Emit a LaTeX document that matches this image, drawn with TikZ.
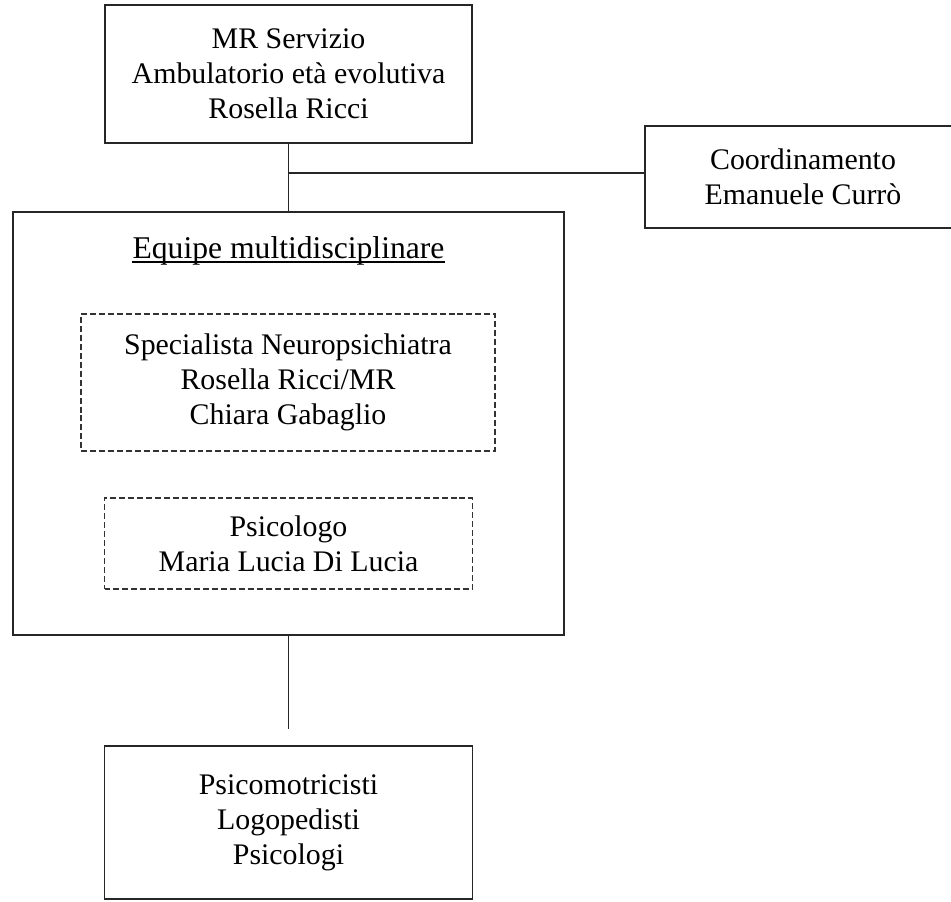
\documentclass[tikz,border=0pt]{standalone}
\usepackage{fontspec}
\setmainfont{Liberation Serif}
\begin{document}
\begin{tikzpicture}[
  box/.style={draw=black!85,line width=1pt,align=center,inner sep=0pt,font=\fontsize{17pt}{19.9pt}\selectfont},
  dashbox/.style={draw=black!80,line width=0.6pt,dash pattern=on 3.4pt off 1.7pt,align=center,inner sep=0pt,font=\fontsize{17pt}{19.9pt}\selectfont},
  link/.style={draw=black!85,line width=0.8pt}]
\useasboundingbox[fill=white](0,0)rectangle(19.02,18.04);
\clip(0,0)rectangle(19.02,18.04);
%servizio
\node[box,minimum width=7.34cm,minimum height=2.76cm](servizio)at(5.77,16.56){MR Servizio\\Ambulatorio età evolutiva\\Rosella Ricci};
%coordinamento
\node[box,minimum width=6.32cm,minimum height=2.04cm](coord)at(16.06,14.5){Coordinamento\\Emanuele Currò};
%equipe
\node[box,minimum width=11.02cm,minimum height=8.46cm](equipe)at(5.77,9.57){};
\node[inner sep=0pt,anchor=base,font=\fontsize{18pt}{20pt}\selectfont](titolo)at(5.77,12.86){Equipe multidisciplinare};
\draw[line width=0.6pt]([yshift=-0.06cm]titolo.base west)--([yshift=-0.06cm]titolo.base east);
\node[dashbox,minimum width=8.28cm,minimum height=2.74cm](neuro)at(5.76,10.39){Specialista Neuropsichiatra\\Rosella Ricci/MR\\Chiara Gabaglio};
\node[dashbox,minimum width=7.36cm,minimum height=1.82cm](psi)at(5.77,7.17){Psicologo\\Maria Lucia Di Lucia};
%operatori
\node[box,minimum width=7.36cm,minimum height=3.06cm](operatori)at(5.77,1.59){Psicomotricisti\\Logopedisti\\Psicologi};
%links
\coordinate(nodo)at(5.77,14.58);
\coordinate(fine)at([yshift=0.32cm]operatori.north);
\draw[link](servizio)--(equipe);
\draw[link](nodo)--(nodo-|coord.west);
\draw[link](equipe)--(fine);
\end{tikzpicture}
\end{document}
